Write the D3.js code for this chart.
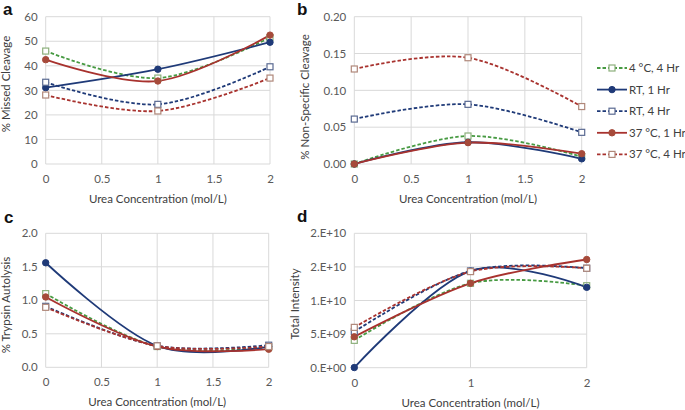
<!DOCTYPE html>
<html><head><meta charset="utf-8">
<script src="https://cdn.jsdelivr.net/npm/d3@7"></script>
<style>
html,body{margin:0;padding:0;background:#fff;}
svg{display:block;font-family:Lato,"Open Sans",sans-serif;}
</style></head>
<body><svg id="c" width="685" height="410"></svg>
<script>
// ---------- data ----------
const urea = [0, 1, 2];
const seriesNames = ["4 °C, 4 Hr", "RT, 1 Hr", "RT, 4 Hr", "37 °C, 1 Hr", "37 °C, 4 Hr"];
// panel a: % Missed Cleavage
const missedCleavage = [
  [46, 35, 51.5],
  [31.1, 38.6, 49.6],
  [33.3, 24.3, 39.6],
  [42.5, 33.8, 52.5],
  [28.1, 21.6, 35]
];
// panel b: % Non-Specific Cleavage
const nonSpecific = [
  [0.000, 0.038, 0.010],
  [0.000, 0.0295, 0.007],
  [0.061, 0.081, 0.043],
  [0.000, 0.029, 0.014],
  [0.129, 0.1443, 0.078]
];
// panel c: % Trypsin Autolysis
const autolysis = [
  [1.10, 0.31, 0.30],
  [1.56, 0.32, 0.31],
  [0.91, 0.32, 0.33],
  [1.05, 0.31, 0.27],
  [0.895, 0.32, 0.31]
];
// panel d: Total Intensity
const intensity = [
  [4.07e9, 12.56e9, 12.2e9],
  [0.02e9, 14.4e9, 11.96e9],
  [5.36e9, 14.4e9, 14.8e9],
  [4.6e9, 12.56e9, 16.1e9],
  [6.0e9, 14.3e9, 14.8e9]
];
const ticksA = [0, 10, 20, 30, 40, 50, 60];
const ticksB = [0, 0.05, 0.10, 0.15, 0.20];
const ticksC = [0, 0.5, 1.0, 1.5, 2.0];
const ticksD = [0, 5e9, 1e10, 1.5e10, 2e10];
const tickLabelsD = ["0.E+00", "5.E+09", "1.E+10", "2.E+10", "2.E+10"];
const xTicksFine = [0, 0.5, 1, 1.5, 2];
const xTicksCoarse = [0, 1, 2];

// ---------- styles ----------
const styles = [
  {line:"#479a42", dash:true,  marker:"square", mstroke:"#8db07c", mfill:"#fff"},
  {line:"#1f3a78", dash:false, marker:"circle", mstroke:"#1f3a78", mfill:"#1f3a78"},
  {line:"#1f3a78", dash:true,  marker:"square", mstroke:"#5a6a92", mfill:"#fff"},
  {line:"#a8322e", dash:false, marker:"circle", mstroke:"#a64a3a", mfill:"#a64a3a"},
  {line:"#a8322e", dash:true,  marker:"square", mstroke:"#b0887a", mfill:"#fff"}
];

const svg = d3.select("#c");
const grid = "#d9d9d9";
const tickColor = "#595959";

function panel(o){
  const x = d3.scaleLinear().domain([0,2]).range([o.x0,o.x1]);
  const y = d3.scaleLinear().domain(o.ydom).range([o.y0,o.y1]);
  const g = svg.append("g");
  // gridlines
  g.append("g").selectAll("line").data(o.yt).join("line")
    .attr("x1",o.x0).attr("x2",o.x1).attr("y1",d=>y(d)).attr("y2",d=>y(d))
    .attr("stroke",grid).attr("stroke-width",1);
  g.append("g").selectAll("line").data(o.xt).join("line")
    .attr("y1",o.y0).attr("y2",o.y1).attr("x1",d=>x(d)).attr("x2",d=>x(d))
    .attr("stroke",grid).attr("stroke-width",1);
  // axes (labels only)
  const ya = d3.axisLeft(y).tickValues(o.yt).tickSize(0).tickPadding(8)
    .tickFormat((d,i)=>o.yfmt(d,i));
  const yg = g.append("g").attr("transform",`translate(${o.x0},0)`).call(ya);
  const xa = d3.axisBottom(x).tickValues(o.xt).tickSize(0).tickPadding(11)
    .tickFormat(d3.format("~g"));
  const xg = g.append("g").attr("transform",`translate(0,${o.y0})`).call(xa);
  [yg,xg].forEach(a=>{
    a.select(".domain").remove();
    a.selectAll("text").attr("fill",tickColor).style("font-size","11.5px")
      .style("font-family","Lato,'Open Sans',sans-serif");
  });
  // titles
  g.append("text").attr("x",(o.x0+o.x1)/2).attr("y",o.xtitleY)
    .attr("text-anchor","middle").attr("fill","#404040").style("font-size","11.5px")
    .text("Urea Concentration (mol/L)");
  g.append("text").attr("transform",`translate(${o.ytx},${o.yty}) rotate(-90)`)
    .attr("text-anchor","middle").attr("fill","#404040").style("font-size","11.5px")
    .text(o.ytitle);
  g.append("text").attr("x",o.lx).attr("y",o.ly).attr("font-weight","bold")
    .attr("fill","#111").style("font-size","17px").style("font-family","Arial,'Liberation Sans',sans-serif")
    .text(o.letter);
  // lines
  const line = d3.line().x((d,i)=>x(urea[i])).y(d=>y(d)).curve(d3.curveCatmullRom.alpha(0));
  o.data.forEach((vals,si)=>{
    const s = styles[si];
    g.append("path").attr("d",line(vals)).attr("fill","none")
      .attr("stroke",s.line).attr("stroke-width",1.8)
      .attr("stroke-dasharray",s.dash?"3.5,2":null);
  });
  o.data.forEach((vals,si)=>{
    const s = styles[si];
    vals.forEach((v,i)=>{
      drawMarker(g, s, x(urea[i]), y(v));
    });
  });
}
function drawMarker(g,s,cx,cy){
  if(s.marker==="circle"){
    g.append("circle").attr("cx",cx).attr("cy",cy).attr("r",3.2)
      .attr("fill",s.mfill).attr("stroke",s.mstroke).attr("stroke-width",1);
  } else {
    g.append("rect").attr("x",cx-3).attr("y",cy-3).attr("width",6).attr("height",6)
      .attr("fill",s.mfill).attr("stroke",s.mstroke).attr("stroke-width",1.2);
  }
}

panel({x0:45.7,x1:270,y0:164,y1:16.7,ydom:[0,60],yt:ticksA,xt:xTicksFine,
  yfmt:d=>d3.format("d")(d),data:missedCleavage,ytitle:"% Missed Cleavage",
  ytx:10,yty:84,xtitleY:203,letter:"a",lx:3,ly:15});
panel({x0:354.3,x1:581.7,y0:164,y1:16.7,ydom:[0,0.2],yt:ticksB,xt:xTicksFine,
  yfmt:d=>d3.format(".2f")(d),data:nonSpecific,ytitle:"% Non-Specific Cleavage",
  ytx:309,yty:97,xtitleY:203,letter:"b",lx:297,ly:15});
panel({x0:45.7,x1:268.7,y0:367.3,y1:233.3,ydom:[0,2],yt:ticksC,xt:xTicksFine,
  yfmt:d=>d3.format(".1f")(d),data:autolysis,ytitle:"% Trypsin Autolysis",
  ytx:10,yty:305,xtitleY:406,letter:"c",lx:4,ly:223});
panel({x0:354.3,x1:586.7,y0:367.7,y1:233.3,ydom:[0,2e10],yt:ticksD,xt:xTicksCoarse,
  yfmt:(d,i)=>tickLabelsD[i],data:intensity,ytitle:"Total Intensity",
  ytx:299,yty:304,xtitleY:407,letter:"d",lx:297,ly:222});

// legend
const leg = svg.append("g");
seriesNames.forEach((name,i)=>{
  const s = styles[i];
  const yy = 68 + i*21.6;
  leg.append("line").attr("x1",597).attr("x2",627).attr("y1",yy).attr("y2",yy)
    .attr("stroke",s.line).attr("stroke-width",1.8).attr("stroke-dasharray",s.dash?"3.5,2":null);
  drawMarker(leg,s,612,yy);
  leg.append("text").attr("x",629).attr("y",yy+4).attr("fill","#404040")
    .style("font-size","11.5px").text(name);
});
</script></body></html>
